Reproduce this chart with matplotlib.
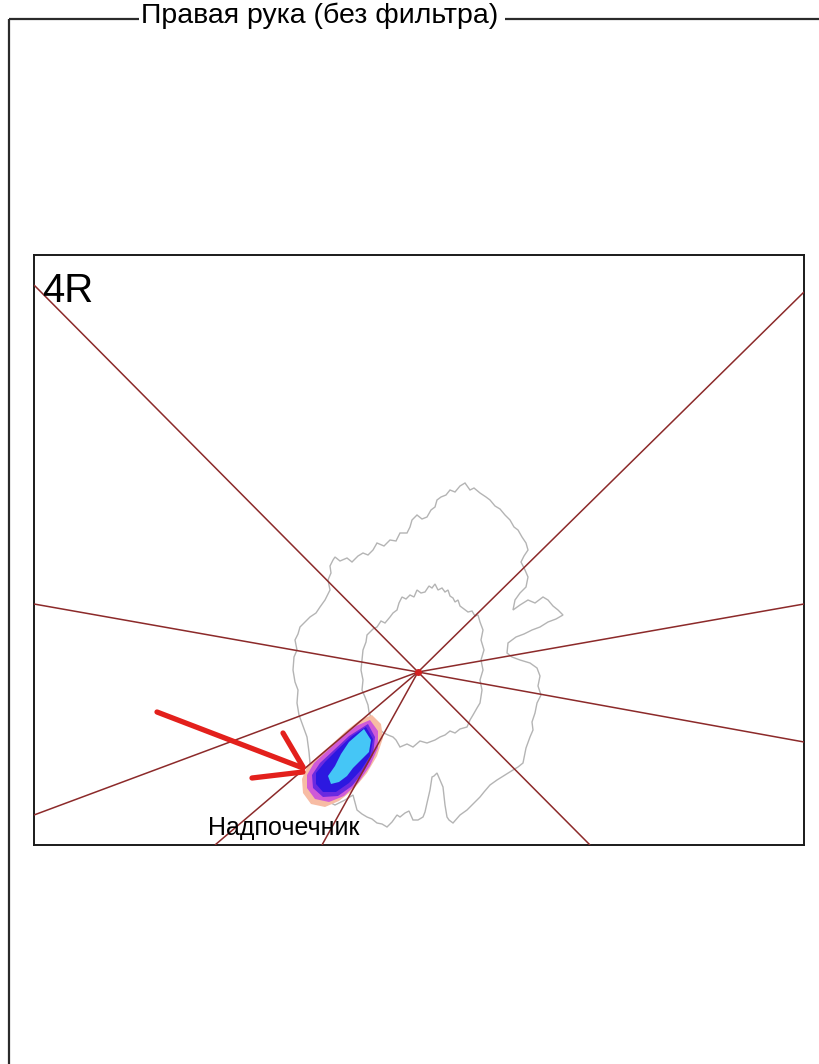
import matplotlib
matplotlib.use("Agg")
import matplotlib.pyplot as plt
from matplotlib.patches import Polygon

W, H = 819, 1064

# ---- data -------------------------------------------------------------
title = "Правая рука (без фильтра)"
panel_label = "4R"
organ_label = "Надпочечник"

# projection centre and ray end points (panel pixel coordinates)
center = (418, 672)
ray_x = [34, 804, 34, 804, 804, 590, 34, 215, 322]
ray_y = [285, 292, 604, 604, 742, 845, 815, 845, 845]

# outer body outline
outer_x = [335, 340, 347, 352, 358, 363, 368, 373, 377, 384, 390, 396, 400, 407, 410, 412,
           417, 422, 427, 431, 435, 437, 441, 446, 450, 455, 460, 465, 470, 474, 480, 486,
           490, 495, 500, 505, 510, 514, 518, 522, 526, 528, 524, 521, 525, 528, 526, 520,
           515, 513, 520, 528, 535, 543, 548, 553, 558, 563, 556, 548, 540, 532, 524, 516,
           508, 507, 512, 520, 530, 537, 540, 538, 541, 537, 535, 532, 533, 530, 526, 523,
           518, 513, 505, 497, 490, 484, 480, 474, 467, 460, 453, 449, 447, 445, 443, 440,
           437, 434, 432, 430, 427, 425, 423, 418, 413, 409, 405, 400, 397, 392, 387, 382,
           377, 372, 367, 362, 357, 353, 345, 335, 325, 316, 310, 309, 307, 303, 299, 297,
           298, 295, 293, 294, 297, 295, 298, 300, 305, 310, 316, 320, 325, 330, 328, 331,
           330, 333]
outer_y = [557, 561, 558, 562, 556, 553, 555, 550, 543, 546, 540, 541, 533, 533, 527, 520,
           515, 519, 517, 510, 507, 500, 497, 495, 490, 492, 486, 483, 490, 488, 493, 497,
           500, 506, 509, 515, 520, 527, 530, 537, 543, 550, 556, 562, 570, 577, 587, 593,
           600, 610, 605, 600, 603, 597, 600, 606, 610, 615, 619, 622, 627, 630, 634, 637,
           643, 653, 657, 660, 663, 668, 676, 686, 695, 703, 713, 722, 730, 737, 748, 763,
           767, 770, 775, 780, 785, 792, 797, 803, 810, 815, 823, 820, 817, 805, 787, 780,
           773, 776, 777, 790, 803, 812, 817, 820, 820, 811, 813, 817, 815, 822, 827, 824,
           823, 819, 817, 814, 810, 795, 800, 805, 800, 790, 763, 752, 737, 726, 715, 703,
           690, 682, 670, 657, 650, 640, 634, 627, 622, 617, 613, 607, 600, 590, 580, 573,
           566, 560]

# inner outline
inner_x = [377, 381, 385, 390, 393, 397, 399, 402, 406, 410, 414, 417, 421, 425, 429, 432,
           435, 438, 442, 445, 448, 450, 453, 455, 458, 460, 464, 468, 472, 475, 478, 480,
           483, 481, 484, 481, 483, 480, 482, 480, 477, 473, 470, 467, 460, 455, 450, 445,
           440, 435, 427, 420, 413, 407, 400, 396, 393, 388, 384, 380, 376, 372, 369, 368,
           365, 362, 363, 361, 362, 363, 366, 367, 370, 373]
inner_y = [627, 621, 623, 617, 613, 610, 603, 597, 599, 595, 597, 590, 593, 592, 586, 588,
           584, 590, 588, 592, 590, 596, 598, 602, 600, 606, 609, 612, 611, 616, 615, 622,
           630, 640, 650, 660, 670, 680, 690, 703, 708, 715, 720, 727, 729, 733, 731, 735,
           737, 740, 743, 741, 747, 744, 747, 740, 737, 735, 733, 730, 726, 720, 712, 705,
           697, 690, 680, 670, 660, 650, 642, 635, 632, 629]

# intensity blob (halo -> core)
blob_levels = [
    ("#f7bca4", [372, 381, 383, 377, 367, 353, 339, 325, 311, 303, 302, 307, 318, 332, 346, 360],
                [715, 724, 738, 756, 773, 790, 801, 807, 804, 793, 779, 767, 756, 744, 731, 720]),
    ("#cf5ad8", [370, 378, 378, 370, 358, 344, 329, 315, 307, 307, 314, 327, 341, 356],
                [720, 731, 748, 766, 783, 796, 802, 799, 788, 775, 763, 751, 738, 726]),
    ("#6a2ae0", [368, 375, 373, 364, 352, 338, 323, 313, 312, 320, 334, 349],
                [724, 737, 755, 771, 786, 796, 797, 788, 775, 763, 750, 736]),
    ("#2c18e0", [366, 373, 370, 361, 349, 336, 323, 316, 316, 325, 338, 352],
                [727, 739, 756, 770, 783, 792, 792, 784, 773, 762, 749, 736]),
    ("#45c6f6", [364, 371, 369, 361, 353, 347, 339, 331, 328, 335, 341, 349],
                [729, 740, 752, 760, 768, 776, 782, 784, 776, 766, 754, 742]),
]

# pointer strokes towards the blob
arrow_x0 = [157, 283, 252]
arrow_y0 = [712, 733, 778]
arrow_x1 = [303, 303, 303]
arrow_y1 = [768, 767, 772]

# ---- figure -----------------------------------------------------------
fig = plt.figure(figsize=(W / 100, H / 100), dpi=100)
fig.patch.set_facecolor("white")

# group frame with caption
frame = fig.add_axes([0, 0, 1, 1])
frame.set_xlim(0, W)
frame.set_ylim(H, 0)
frame.axis("off")
frame_y = 19
frame.plot([9, 9], [frame_y, H + 5], color="#2b2b2b", lw=1.6, solid_capstyle="butt")
frame.plot([9, 139], [frame_y, frame_y], color="#2b2b2b", lw=1.6, solid_capstyle="butt")
frame.plot([505, W + 5], [frame_y, frame_y], color="#2b2b2b", lw=1.6, solid_capstyle="butt")
frame.text(141, 23, title, fontsize=20.5, family="Liberation Sans",
           ha="left", va="baseline", color="black")

# main panel, pixel-like coordinates
x0, x1, y0, y1 = 34, 804, 255, 845
ax = fig.add_axes([x0 / W, 1 - y1 / H, (x1 - x0) / W, (y1 - y0) / H])
ax.set_xlim(x0, x1)
ax.set_ylim(y1, y0)
ax.set_xticks([])
ax.set_yticks([])
for s in ax.spines.values():
    s.set_color("#1a1a1a")
    s.set_linewidth(1.4)

ax.add_patch(Polygon(list(zip(outer_x, outer_y)), closed=True, fill=False,
                     edgecolor="#b4b4b4", lw=1.0, zorder=2))
ax.add_patch(Polygon(list(zip(inner_x, inner_y)), closed=True, fill=False,
                     edgecolor="#b4b4b4", lw=1.0, zorder=2))

for color, bx, by in blob_levels:
    ax.add_patch(Polygon(list(zip(bx, by)), closed=True, facecolor=color,
                         edgecolor="none", zorder=3))

cx, cy = center
for ex, ey in zip(ray_x, ray_y):
    ax.plot([cx, ex], [cy, ey], color="#8c2a2a", lw=1.1, zorder=4,
            solid_capstyle="butt")
ax.plot([cx], [cy], marker="o", ms=4, color="#d42020", zorder=5)

for ax0, ay0, ax1_, ay1 in zip(arrow_x0, arrow_y0, arrow_x1, arrow_y1):
    ax.plot([ax0, ax1_], [ay0, ay1], color="#e3201c", lw=3.8, zorder=6,
            solid_capstyle="round")

ax.text(42, 302, panel_label, fontsize=29, family="Liberation Sans",
        ha="left", va="baseline", color="black", zorder=7)
ax.text(208, 835, organ_label, fontsize=18, family="Liberation Sans",
        ha="left", va="baseline", color="black", zorder=7)

fig.savefig("out.png", dpi=100, facecolor="white")
